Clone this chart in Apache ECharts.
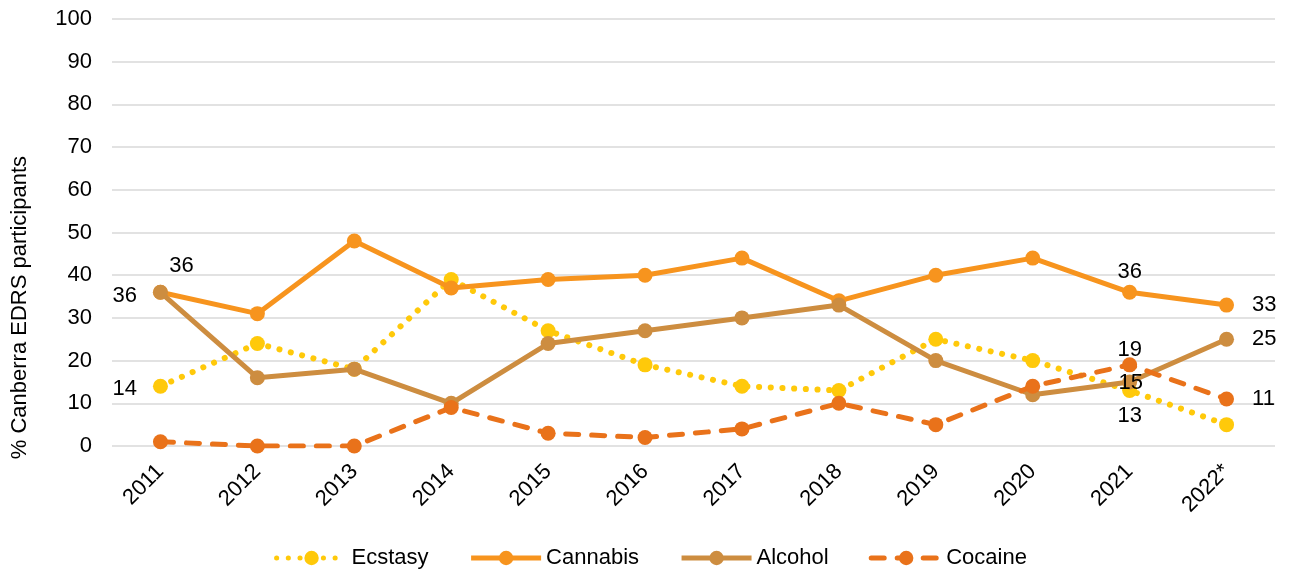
<!DOCTYPE html>
<html>
<head>
<meta charset="utf-8">
<script src="https://cdn.jsdelivr.net/npm/echarts@6/dist/echarts.min.js"></script>
<style>
  html, body { margin: 0; padding: 0; background: #fff; }
  #chart { width: 1301px; height: 571px; }
</style>
</head>
<body>
<div id="chart"></div>
<script>
// Survey years
const years = ['2011', '2012', '2013', '2014', '2015', '2016', '2017', '2018', '2019', '2020', '2021', '2022*'];

// % of Canberra EDRS participants per substance
const ecstasy  = [14, 24, 18, 39, 27, 19, 14, 13, 25, 20, 13, 5];
const cannabis = [36, 31, 48, 37, 39, 40, 44, 34, 40, 44, 36, 33];
const alcohol  = [36, 16, 18, 10, 24, 27, 30, 33, 20, 12, 15, 25];
const cocaine  = [1, 0, 0, 9, 3, 2, 4, 10, 5, 14, 19, 11];

const yTicks = [0, 10, 20, 30, 40, 50, 60, 70, 80, 90, 100];

const FONT = '"Liberation Sans", Arial, sans-serif';
const FS = 22;
const labelBase = { show: true, color: '#000', fontSize: FS, fontFamily: FONT };

// Attach value labels to selected points: {index: labelOptions}
function withLabels(values, labels) {
  return values.map((v, i) => labels[i]
    ? { value: v, label: Object.assign({}, labelBase, labels[i]) }
    : v);
}

const chart = echarts.init(document.getElementById('chart'), null, { renderer: 'canvas' });

chart.setOption({
  animation: false,
  backgroundColor: '#fff',
  grid: { left: 112, right: 26, top: 19, bottom: 125, containLabel: false },
  xAxis: {
    type: 'category',
    data: years,
    boundaryGap: true,
    axisLine: { show: false },
    axisTick: { show: false },
    axisLabel: {
      rotate: 45,
      margin: 22,
      color: '#000',
      fontSize: FS,
      fontFamily: FONT
    }
  },
  yAxis: {
    type: 'value',
    min: yTicks[0],
    max: yTicks[yTicks.length - 1],
    interval: 10,
    axisLine: { show: false },
    axisTick: { show: false },
    axisLabel: { color: '#000', fontSize: FS, fontFamily: FONT, margin: 20 },
    splitLine: { lineStyle: { color: '#d9d9d9', width: 1.5 } }
  },
  graphic: [{
    type: 'text',
    left: 9,
    top: 156,
    rotation: Math.PI / 2,
    style: {
      text: '% Canberra EDRS participants',
      fill: '#000',
      font: FS + 'px ' + FONT
    }
  }],
  legend: {
    top: 542,
    left: 'center',
    itemWidth: 70,
    itemHeight: 18,
    itemGap: 40,
    lineStyle: { width: 5 },
    textStyle: { color: '#000', fontSize: FS, fontFamily: FONT },
    data: ['Ecstasy', 'Cannabis', 'Alcohol', 'Cocaine']
  },
  series: [
    {
      name: 'Ecstasy',
      type: 'line',
      data: withLabels(ecstasy, {
        0: { position: 'left', distance: 16, offset: [0, 3] },
        10: { position: 'bottom', distance: 7 }
      }),
      symbol: 'circle',
      symbolSize: 15,
      itemStyle: { color: '#FFC90A' },
      lineStyle: { color: '#FFC90A', width: 6, type: [0.1, 11.6], cap: 'round' },
      z: 2
    },
    {
      name: 'Cannabis',
      type: 'line',
      data: withLabels(cannabis, {
        0: { position: 'top', distance: 8, offset: [21, 0] },
        10: { position: 'top', distance: 2 },
        11: { position: 'right', distance: 18 }
      }),
      symbol: 'circle',
      symbolSize: 15,
      itemStyle: { color: '#F7941E' },
      lineStyle: { color: '#F7941E', width: 5 },
      z: 3
    },
    {
      name: 'Alcohol',
      type: 'line',
      data: withLabels(alcohol, {
        0: { position: 'left', distance: 16, offset: [0, 4] },
        10: { position: 'inside', offset: [1, 1] },
        11: { position: 'right', distance: 18 }
      }),
      symbol: 'circle',
      symbolSize: 15,
      itemStyle: { color: '#CD8D40' },
      lineStyle: { color: '#CD8D40', width: 5 },
      z: 4
    },
    {
      name: 'Cocaine',
      type: 'line',
      data: withLabels(cocaine, {
        10: { position: 'top', distance: 0, offset: [0, 4] },
        11: { position: 'right', distance: 18 }
      }),
      symbol: 'circle',
      symbolSize: 15,
      itemStyle: { color: '#E9721A' },
      lineStyle: { color: '#E9721A', width: 5, type: [13, 13], cap: 'round' },
      z: 5
    }
  ]
});
</script>
</body>
</html>
